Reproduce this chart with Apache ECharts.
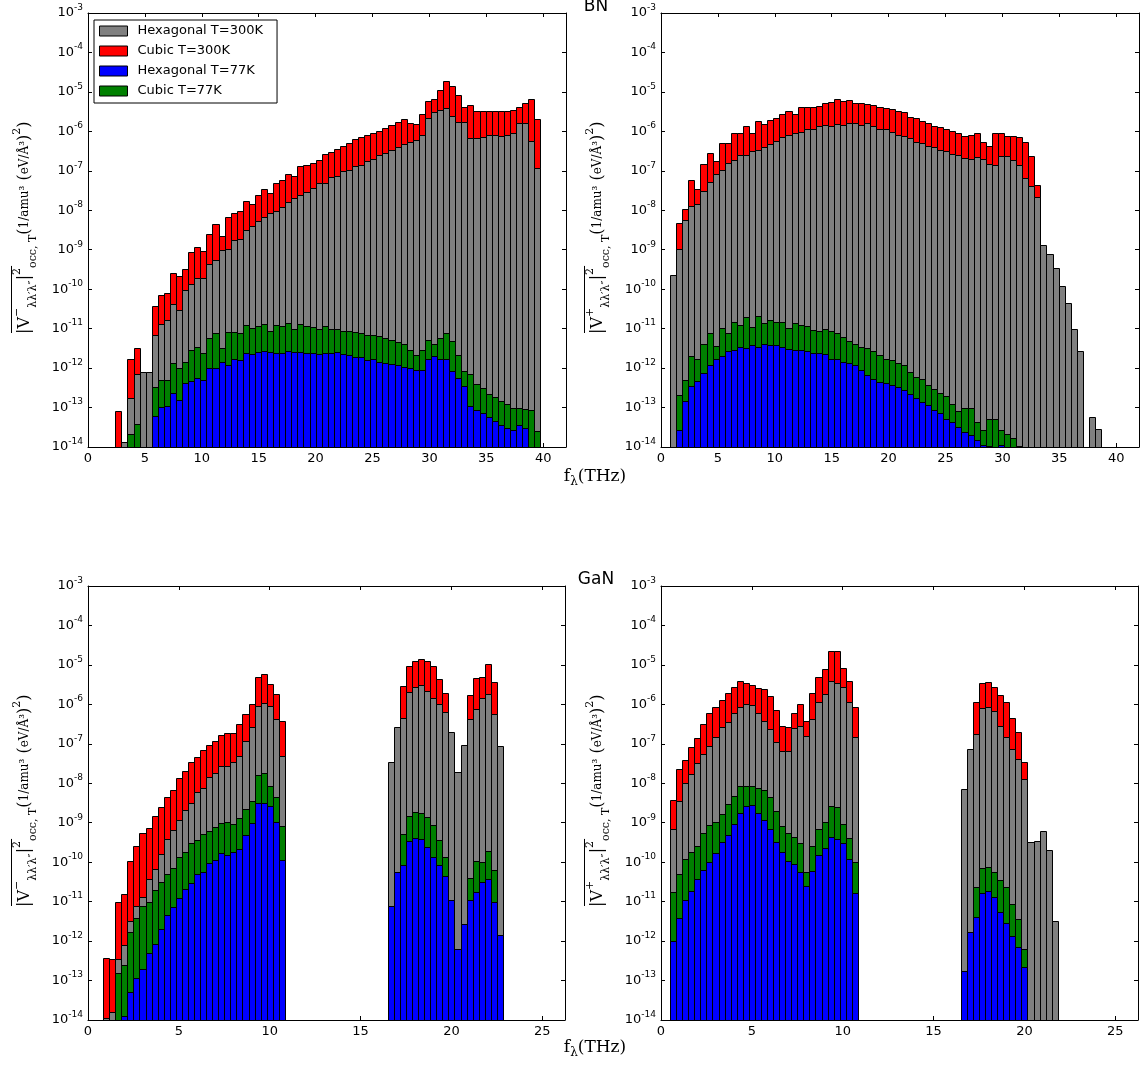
<!DOCTYPE html>
<html>
<head>
<meta charset="utf-8">
<script src="https://cdn.jsdelivr.net/npm/echarts@6/dist/echarts.min.js"></script>
<style>html,body{margin:0;padding:0;background:#fff}#chart{width:1141px;height:1068px}</style>
</head>
<body>
<div id="chart"></div>
<script>
// ---------------- DATA (values are log10 of |V|^2) ----------------
const seriesNames = ['Hexagonal T=300K', 'Cubic T=300K', 'Hexagonal T=77K', 'Cubic T=77K'];
const xTicksBN = [0, 5, 10, 15, 20, 25, 30, 35, 40];
const xTicksGaN = [0, 5, 10, 15, 20, 25];
const yDecades = [-14, -13, -12, -11, -10, -9, -8, -7, -6, -5, -4, -3];

const bnBinWidth = 40 / 75;   // THz, bin i centred at i*width
const ganBinWidth = 25 / 75;
const bnXMax = 42, ganXMax = 26.25;

// BN, V-  (first bin index 5)
const bnMinusFirstBin = 5;
const bnMinusCub300 = [-13.09, null, -11.76, -11.48, null, null, -10.43, -10.16, -10.09, -9.60,
  -9.67, -9.50, -9.07, -8.93, -9.04, -8.59, -8.35, -8.64, -8.18, -8.08,
  -8.01, -7.76, -7.83, -7.62, -7.46, -7.55, -7.32, -7.24, -7.07, -7.13,
  -6.88, -6.86, -6.80, -6.73, -6.58, -6.53, -6.45, -6.37, -6.29, -6.20,
  -6.15, -6.10, -6.04, -5.98, -5.91, -5.85, -5.77, -5.69, -5.78, -5.82,
  -5.55, -5.22, -5.19, -4.94, -4.72, -4.84, -5.08, -5.39, -5.34, -5.49,
  -5.49, -5.49, -5.49, -5.49, -5.49, -5.47, -5.38, -5.27, -5.19, -5.69];
const bnMinusHex300 = [null, -13.87, -12.77, -12.16, -12.10, -12.09, -11.17, -10.87, -10.77, -10.38,
  -10.53, -10.01, -9.86, -9.71, -9.71, -9.35, -9.25, -9.01, -8.99, -8.76,
  -8.74, -8.49, -8.40, -8.27, -8.18, -8.08, -8.01, -7.91, -7.79, -7.68,
  -7.62, -7.53, -7.43, -7.32, -7.30, -7.15, -7.13, -7.00, -6.97, -6.88,
  -6.85, -6.75, -6.71, -6.61, -6.56, -6.48, -6.40, -6.31, -6.26, -6.22,
  -6.08, -5.67, -5.52, -5.46, -5.42, -5.60, -5.77, -5.77, -6.16, -6.16,
  -6.14, -6.09, -6.10, -6.11, -6.09, -6.05, -5.80, -5.80, -6.25, -6.94];
const bnMinusCub77 = [null, null, -13.66, -13.42, null, null, -12.48, -12.29, -12.29, -11.87,
  -11.99, -11.84, -11.53, -11.46, -11.63, -11.25, -11.11, -11.48, -11.08, -11.08,
  -11.11, -10.92, -10.98, -10.94, -10.89, -11.06, -10.91, -10.94, -10.85, -11.00,
  -10.87, -10.94, -10.96, -11.00, -10.94, -11.00, -11.02, -11.06, -11.06, -11.08,
  -11.12, -11.15, -11.15, -11.19, -11.25, -11.29, -11.34, -11.38, -11.55, -11.67,
  -11.53, -11.29, -11.38, -11.23, -11.10, -11.31, -11.66, -12.07, -12.16, -12.41,
  -12.51, -12.65, -12.73, -12.83, -12.92, -13.00, -13.00, -13.03, -13.05, -13.60];
const bnMinusHex77 = [null, null, null, null, null, null, -13.22, -12.98, -12.96, -12.63,
  -12.82, -12.38, -12.32, -12.24, -12.31, -12.01, -11.99, -11.84, -11.91, -11.76,
  -11.80, -11.63, -11.65, -11.59, -11.56, -11.59, -11.61, -11.61, -11.56, -11.59,
  -11.59, -11.61, -11.61, -11.65, -11.61, -11.63, -11.59, -11.65, -11.67, -11.73,
  -11.72, -11.80, -11.76, -11.84, -11.88, -11.90, -11.93, -11.97, -12.01, -12.05,
  -12.04, -11.76, -11.70, -11.76, -11.78, -12.07, -12.24, -12.46, -12.97, -13.07,
  -13.15, -13.24, -13.35, -13.45, -13.53, -13.58, -13.45, -13.53, null, null];

// BN, V+  (first bin index 2)
const bnPlusFirstBin = 2;
const bnPlusCub300 = [null, -8.33, -7.97, -7.24, -7.45, -6.83, -6.54, -6.75, -6.29, -6.29,
  -6.05, -6.05, -5.86, -6.05, -5.73, -5.82, -5.70, -5.66, -5.55, -5.49,
  -5.57, -5.38, -5.38, -5.39, -5.36, -5.27, -5.26, -5.19, -5.23, -5.21,
  -5.27, -5.27, -5.31, -5.33, -5.38, -5.40, -5.44, -5.49, -5.52, -5.63,
  -5.67, -5.73, -5.80, -5.87, -5.90, -5.93, -5.98, -6.05, -6.12, -6.09,
  -6.04, -6.26, -6.37, -6.05, -6.05, -6.11, -6.11, -6.14, -6.26, -6.63,
  -7.36];
const bnPlusHex300 = [-9.63, -8.99, -8.25, -7.89, -7.84, -7.51, -7.28, -7.08, -6.98, -6.81,
  -6.73, -6.60, -6.60, -6.49, -6.48, -6.39, -6.31, -6.25, -6.14, -6.09,
  -6.04, -6.01, -5.95, -5.94, -5.87, -5.84, -5.86, -5.82, -5.84, -5.80,
  -5.80, -5.83, -5.80, -5.87, -5.93, -5.95, -6.01, -6.08, -6.12, -6.18,
  -6.26, -6.29, -6.37, -6.39, -6.48, -6.50, -6.58, -6.60, -6.67, -6.69,
  -6.66, -6.69, -6.83, -6.84, -6.63, -6.63, -6.73, -6.84, -7.18, -7.39,
  -7.66, -8.87, -9.11, -9.46, -9.92, -10.35, -11.02, -11.57, null, -13.24, -13.55];
const bnPlusCub77 = [null, -12.69, -12.29, -11.69, -11.76, -11.40, -11.10, -11.44, -10.98, -11.11,
  -10.83, -10.90, -10.70, -10.96, -10.68, -10.85, -10.77, -10.83, -10.83, -10.98,
  -10.85, -10.91, -10.94, -11.04, -11.06, -11.02, -11.06, -11.10, -11.21, -11.31,
  -11.38, -11.46, -11.50, -11.57, -11.66, -11.76, -11.80, -11.86, -11.93, -12.10,
  -12.22, -12.28, -12.42, -12.52, -12.62, -12.71, -12.92, -13.09, -13.00, -13.00,
  -13.36, -13.56, -13.28, -13.30, -13.58, -13.66, -13.76, -13.98];
const bnPlusHex77 = [null, -13.56, -12.84, -12.45, -12.33, -12.12, -11.93, -11.76, -11.69, -11.57,
  -11.55, -11.46, -11.48, -11.42, -11.46, -11.40, -11.42, -11.42, -11.46, -11.52,
  -11.53, -11.53, -11.56, -11.63, -11.61, -11.65, -11.76, -11.77, -11.84, -11.87,
  -11.93, -12.04, -12.18, -12.27, -12.35, -12.39, -12.43, -12.48, -12.56, -12.65,
  -12.77, -12.86, -12.94, -13.07, -13.15, -13.28, -13.36, -13.49, -13.62, -13.70,
  -13.81, -13.96, -13.97, null, -13.96];

// GaN, V-  (low branch from bin 3, high branch from bin 50)
const ganMinusLowFirstBin = 3, ganMinusHighFirstBin = 50;
const ganMinusCub300Low = [-12.43, -12.45, -11.01, -10.80, -9.97, -9.58, -9.27, -9.14, -8.82, -8.59,
  -8.36, -8.18, -7.87, -7.70, -7.47, -7.34, -7.15, -7.04, -6.92, -6.77,
  -6.72, -6.72, -6.50, -6.25, -6.00, -5.30, -5.22, -5.49, -5.73, -6.42];
const ganMinusHex300Low = [-13.94, -13.80, -12.45, -12.09, -11.50, -11.12, -10.87, -10.42, -10.18, -9.80,
  -9.41, -9.18, -8.93, -8.67, -8.49, -8.21, -8.13, -7.85, -7.74, -7.55,
  -7.55, -7.45, -7.31, -6.94, -6.58, -6.03, -5.97, -6.03, -6.38, -7.32];
const ganMinusCub77Low = [null, null, -12.81, -12.60, -11.78, -11.42, -11.12, -11.02, -10.70, -10.51,
  -10.30, -10.15, -9.87, -9.75, -9.52, -9.45, -9.28, -9.21, -9.11, -9.01,
  -8.99, -9.04, -8.87, -8.66, -8.44, -7.80, -7.74, -8.07, -8.35, -9.08];
const ganMinusHex77Low = [null, null, null, -13.91, -13.30, -12.94, -12.71, -12.29, -12.07, -11.70,
  -11.33, -11.14, -10.91, -10.68, -10.54, -10.30, -10.25, -10.03, -9.94, -9.77,
  -9.81, -9.75, -9.66, -9.32, -9.01, -8.51, -8.49, -8.57, -8.99, -9.94];
const ganMinusCub300High = [null, null, -5.53, -5.02, -4.90, -4.86, -4.89, -5.03, -5.35, -5.72,
  null, null, null, -5.76, -5.34, -5.31, -4.98, -5.44, null];
const ganMinusHex300High = [-7.47, -6.58, -6.35, -5.68, -5.55, -5.51, -5.66, -5.83, -6.00, -6.20,
  -6.71, -7.72, -7.03, -6.37, -6.12, -5.84, -5.73, -6.25, -7.05];
const ganMinusCub77High = [null, null, -9.28, -8.82, -8.73, -8.76, -8.86, -9.05, -9.43, -9.87,
  null, null, null, -10.41, -9.97, -10.00, -9.71, -10.19, null];
const ganMinusHex77High = [-11.11, -10.26, -10.08, -9.46, -9.39, -9.42, -9.62, -9.86, -10.08, -10.36,
  -10.95, -12.20, -11.57, -10.95, -10.76, -10.51, -10.43, -11.01, -11.84];

// GaN, V+  (low branch from bin 2, high branch from bin 50)
const ganPlusLowFirstBin = 2, ganPlusHighFirstBin = 50;
const ganPlusCub300Low = [-8.42, -7.64, -7.42, -7.07, -6.86, -6.50, -6.21, -6.06, -5.90, -5.70,
  -5.57, -5.41, -5.45, -5.52, -5.59, -5.62, -5.79, -6.14, -6.54, -6.58,
  -6.21, -5.99, -6.42, -5.72, -5.31, -5.11, -4.65, -4.66, -5.07, -5.40, -6.06];
const ganPlusHex300Low = [-9.16, -8.46, -8.00, -7.77, -7.49, -7.26, -7.05, -6.82, -6.58, -6.44,
  -6.22, -6.06, -5.99, -6.01, -6.22, -6.41, -6.62, -6.96, -7.17, -7.17,
  -6.60, -6.56, -6.79, -6.38, -5.95, -5.74, -5.42, -5.46, -5.57, -5.95, -6.83];
const ganPlusCub77Low = [-10.76, -10.30, -9.92, -9.73, -9.58, -9.27, -9.07, -8.97, -8.78, -8.53,
  -8.31, -8.06, -8.06, -8.06, -8.11, -8.18, -8.34, -8.70, -9.08, -9.27,
  -9.35, -9.52, -10.25, -9.58, -9.16, -8.99, -8.57, -8.61, -9.04, -9.38, -10.00];
const ganPlusHex77Low = [-12.01, -11.42, -10.95, -10.73, -10.43, -10.19, -10.00, -9.76, -9.50, -9.32,
  -9.03, -8.76, -8.57, -8.55, -8.76, -8.94, -9.16, -9.49, -9.73, -9.98,
  -10.05, -10.26, -10.60, -10.22, -9.81, -9.65, -9.35, -9.41, -9.52, -9.92, -10.79];
const ganPlusCub300High = [null, null, -5.93, -5.46, -5.43, -5.57, -5.76, -5.94, -6.35, -6.71,
  -7.47, null, null, null, null, null];
const ganPlusHex300High = [-8.15, -7.13, -6.74, -6.10, -6.06, -6.18, -6.56, -6.83, -7.14, -7.39,
  -7.89, -9.49, -9.46, -9.21, -9.70, -11.48];
const ganPlusCub77High = [null, null, -10.62, -10.15, -10.11, -10.25, -10.45, -10.64, -11.06, -11.44,
  -12.20, null, null, null, null, null];
const ganPlusHex77High = [-12.77, -11.77, -11.39, -10.79, -10.72, -10.87, -11.25, -11.55, -11.87, -12.15,
  -12.66, null, null, null, null, null];

// ---------------- CHART ----------------
const Y_MIN = Math.pow(10, yDecades[0]);
const Y_MAX = Math.pow(10, yDecades[yDecades.length - 1]);
const COLORS = { hex300: '#808080', cub300: '#ff0000', hex77: '#0000ff', cub77: '#008000' };
const NAME = { hex300: seriesNames[0], cub300: seriesNames[1], hex77: seriesNames[2], cub77: seriesNames[3] };
const DRAW_ORDER = ['cub300', 'hex300', 'cub77', 'hex77'];

const panels = [
  { grid: { left: 88, top: 13, width: 478, height: 434 }, xMax: bnXMax, ticks: xTicksBN, binW: bnBinWidth,
    groups: [{ first: bnMinusFirstBin, hex300: bnMinusHex300, cub300: bnMinusCub300, hex77: bnMinusHex77, cub77: bnMinusCub77 }] },
  { grid: { left: 661, top: 13, width: 478, height: 434 }, xMax: bnXMax, ticks: xTicksBN, binW: bnBinWidth,
    groups: [{ first: bnPlusFirstBin, hex300: bnPlusHex300, cub300: bnPlusCub300, hex77: bnPlusHex77, cub77: bnPlusCub77 }] },
  { grid: { left: 88, top: 586, width: 477, height: 434 }, xMax: ganXMax, ticks: xTicksGaN, binW: ganBinWidth,
    groups: [
      { first: ganMinusLowFirstBin, hex300: ganMinusHex300Low, cub300: ganMinusCub300Low, hex77: ganMinusHex77Low, cub77: ganMinusCub77Low },
      { first: ganMinusHighFirstBin, hex300: ganMinusHex300High, cub300: ganMinusCub300High, hex77: ganMinusHex77High, cub77: ganMinusCub77High }] },
  { grid: { left: 661, top: 586, width: 477, height: 434 }, xMax: ganXMax, ticks: xTicksGaN, binW: ganBinWidth,
    groups: [
      { first: ganPlusLowFirstBin, hex300: ganPlusHex300Low, cub300: ganPlusCub300Low, hex77: ganPlusHex77Low, cub77: ganPlusCub77Low },
      { first: ganPlusHighFirstBin, hex300: ganPlusHex300High, cub300: ganPlusCub300High, hex77: ganPlusHex77High, cub77: ganPlusCub77High }] }
];

const FONT = 'DejaVu Sans';
const grids = [], xAxes = [], yAxes = [], series = [];

function xAxisDef(g, p, pos, showLabel) {
  return {
    type: 'value', gridIndex: g, position: pos, min: 0, max: p.xMax, interval: 5,
    axisLine: { show: true, onZero: false, lineStyle: { color: '#000', width: 1 } },
    axisTick: { show: true, inside: true, length: 4, lineStyle: { color: '#000', width: 1 } },
    splitLine: { show: false },
    axisLabel: { show: showLabel, margin: 5, color: '#000', fontFamily: FONT, fontSize: 13,
      formatter: v => (p.ticks.indexOf(v) >= 0 ? String(v) : '') }
  };
}
function yAxisDef(g, pos, showLabel) {
  return {
    type: 'log', logBase: 10, gridIndex: g, position: pos, min: Y_MIN, max: Y_MAX, interval: 1,
    axisLine: { show: true, onZero: false, lineStyle: { color: '#000', width: 1 } },
    axisTick: { show: true, inside: true, length: 4, lineStyle: { color: '#000', width: 1 } },
    minorTick: { show: false }, splitLine: { show: false },
    axisLabel: {
      show: showLabel, margin: 5, color: '#000',
      formatter: v => {
        const e = Math.round(Math.log10(v));
        return '{b|10}{sup|' + (e < 0 ? '-' : '') + Math.abs(e) + '}';
      },
      rich: {
        b: { fontFamily: FONT, fontSize: 13, lineHeight: 20, color: '#000' },
        sup: { fontFamily: FONT, fontSize: 9, lineHeight: 8, verticalAlign: 'top', color: '#000' }
      }
    }
  };
}

panels.forEach((p, g) => {
  grids.push(Object.assign({ containLabel: false, outerBoundsMode: 'none' }, p.grid));
  xAxes.push(xAxisDef(g, p, 'bottom', true), xAxisDef(g, p, 'top', false));
  yAxes.push(yAxisDef(g, 'left', true), yAxisDef(g, 'right', false));
  DRAW_ORDER.forEach(key => {
    const data = [];
    p.groups.forEach(gr => {
      gr[key].forEach((v, i) => {
        if (v !== null && v !== undefined) data.push([(gr.first + i) * p.binW, Math.pow(10, v)]);
      });
    });
    const w = p.binW, color = COLORS[key];
    series.push({
      type: 'custom', name: NAME[key], xAxisIndex: 2 * g, yAxisIndex: 2 * g, clip: true,
      itemStyle: { color }, encode: { x: 0, y: 1 }, data,
      renderItem: (params, api) => {
        const x = api.value(0), v = api.value(1);
        const a = api.coord([x - w / 2, v]);
        const b = api.coord([x + w / 2, Y_MIN]);
        const x0 = Math.round(a[0]) + 0.5, x1 = Math.round(b[0]) + 0.5;
        const y0 = Math.round(a[1]) + 0.5, y1 = Math.round(b[1]) + 0.5;
        return { type: 'rect', shape: { x: x0, y: y0, width: x1 - x0, height: y1 - y0 },
          style: { fill: color, stroke: '#000', lineWidth: 1 } };
      }
    });
  });
});

// ---- math-like axis titles ----
const MATH = 'DejaVu Serif';
const M_SIZE = 16, S_SIZE = 11, F_SIZE = 12;
const mathRich = {
  m: { fontFamily: MATH, fontSize: M_SIZE, lineHeight: 27, color: '#000' },
  sup: { fontFamily: MATH, fontSize: S_SIZE, lineHeight: 11, verticalAlign: 'top', color: '#000' },
  sub: { fontFamily: MATH, fontSize: S_SIZE, lineHeight: 11, verticalAlign: 'bottom', color: '#000' },
  f: { fontFamily: MATH, fontSize: F_SIZE, lineHeight: 27, color: '#000' }
};
function yName(sign) {
  return '{m||V}{sup|' + sign + '}{sub|λλ′λ″}{m||}{sup|2}{sub|occ, T}{m|(}{f|1/amu³}{m| (}{f|eV/Å³}{m|)}{sup|2}{m|)}';
}
// length of the overlined part |V..|^2, measured with the same fonts
const mctx = document.createElement('canvas').getContext('2d');
function tw(t, size) { mctx.font = size + 'px "' + MATH + '"'; return mctx.measureText(t).width; }
const overLen = tw('|V', M_SIZE) + tw('−', S_SIZE) + tw('λλ′λ″', S_SIZE) + tw('|', M_SIZE) + tw('2', S_SIZE) + 2;

function textEl(text, x, y, rot, rich, font, align) {
  const el = { type: 'text', x, y, rotation: rot || 0, silent: true,
    style: { text, align: align || 'center', verticalAlign: 'middle', textAlign: align || 'center', textVerticalAlign: 'middle', fill: '#000' } };
  if (rich) el.style.rich = rich;
  if (font) el.style.font = font;
  return el;
}
function lineEl(x1, y1, x2, y2) {
  return { type: 'line', silent: true, shape: { x1, y1, x2, y2 }, style: { stroke: '#000', lineWidth: 1 } };
}
const xNameRich = {
  m: { fontFamily: MATH, fontSize: 17, lineHeight: 22, color: '#000' },
  sub: { fontFamily: MATH, fontSize: 12, lineHeight: 12, verticalAlign: 'bottom', color: '#000' }
};
const yLabelSpots = [ { x: 25, y: 334, s: '−' }, { x: 598, y: 334, s: '+' }, { x: 25, y: 907, s: '−' }, { x: 598, y: 907, s: '+' } ];
const graphics = [
  textEl('BN', 596, 7, 0, null, '17px "DejaVu Sans"'),
  textEl('GaN', 596, 580, 0, null, '17px "DejaVu Sans"'),
  textEl('{m|f}{sub|λ}{m|(THz)}', 595, 477, 0, xNameRich),
  textEl('{m|f}{sub|λ}{m|(THz)}', 595, 1048, 0, xNameRich)
];
yLabelSpots.forEach(s => {
  graphics.push(textEl(yName(s.s), s.x, s.y, Math.PI / 2, mathRich, null, 'left'));
  graphics.push(lineEl(s.x - 13.5, s.y - 1, s.x - 13.5, s.y - overLen));
});

const chart = echarts.init(document.getElementById('chart'), null, { renderer: 'canvas' });
chart.setOption({
  backgroundColor: '#fff',
  animation: false,
  grid: grids,
  xAxis: xAxes,
  yAxis: yAxes,
  series,
  legend: {
    data: seriesNames, orient: 'vertical', left: 94, top: 20, padding: [4, 14, 5, 5], itemGap: 6,
    itemWidth: 28, itemHeight: 10, icon: 'rect', selectedMode: false,
    borderColor: '#000', borderWidth: 1, backgroundColor: '#fff',
    itemStyle: { borderColor: '#000', borderWidth: 1 },
    textStyle: { fontFamily: FONT, fontSize: 13, color: '#000', lineHeight: 14, padding: [0, 0, 0, 5] }
  },
  graphic: graphics
});
</script>
</body>
</html>
